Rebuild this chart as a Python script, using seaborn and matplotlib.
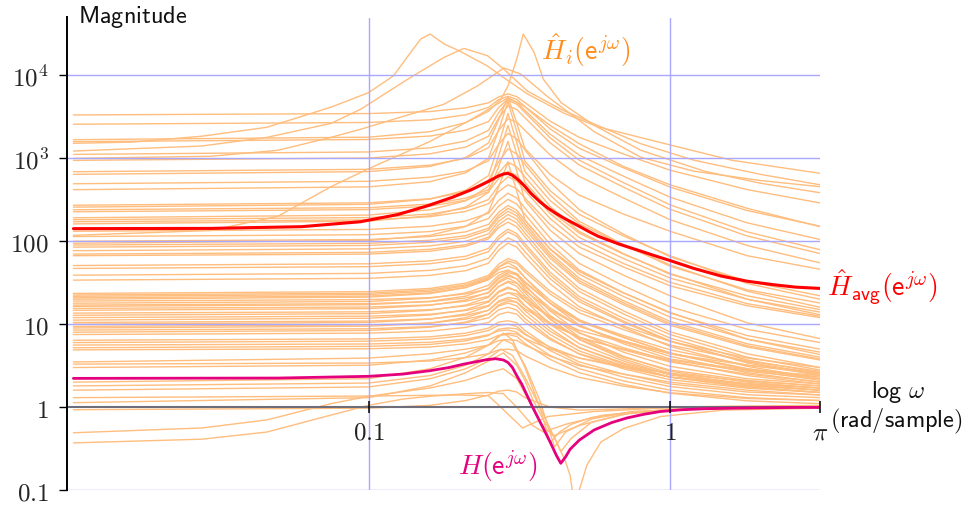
import numpy as np
import pandas as pd
import matplotlib
matplotlib.use("Agg")
import matplotlib.pyplot as plt
from matplotlib.ticker import NullLocator
import seaborn as sns

# ---------------------------------------------------------------
# Frequency grid (rad/sample) shared by most of the estimates
# ---------------------------------------------------------------
OMEGA = [0.0105, 0.1, 0.16, 0.21, 0.25, 0.27, 0.29, 0.31, 0.33, 0.4, 0.5, 0.7, 1.0, 1.8, 3.1416]

# Estimated responses |H_i| with large low-frequency gain (values on OMEGA)
UPPER_ESTIMATES = [
    [3340, 3470, 3670, 4070, 4680, 5500, 6000, 5550, 4710, 2810, 1790, 1130, 720, 420, 290],
    [2580, 2710, 2920, 3350, 4130, 5100, 5600, 5150, 4200, 2270, 1320, 770, 450, 235, 152],
    [1590, 1690, 1860, 2190, 2780, 4100, 5200, 4750, 3800, 1960, 1090, 610, 340, 167, 105],
    [1117, 1195, 1340, 1620, 2180, 3550, 5000, 4500, 3590, 1770, 950, 510, 275, 130, 79],
    [946, 1010, 1135, 1370, 1850, 3050, 4300, 3900, 3090, 1540, 830, 450, 243, 116, 71],
    [690, 738, 828, 1000, 1345, 2170, 3000, 2750, 2180, 1100, 605, 333, 182, 89, 55],
    [641, 692, 800, 1026, 1540, 2910, 5500, 2680, 1310, 640, 360, 213, 132, 67, 46],
    [494, 529, 593, 701, 939, 1480, 2000, 1720, 1270, 517, 240, 122, 65, 33, 22],
    [419, 453, 524, 670, 1006, 2200, 4800, 2110, 927, 407, 211, 116, 67, 31, 20],
    [272, 291, 326, 394, 544, 910, 1300, 1130, 847, 360, 174, 91, 50, 26, 18],
    [258, 279, 323, 413, 619, 1470, 3500, 1560, 695, 310, 162, 90, 52, 25, 16],
    [240, 254, 281, 331, 420, 665, 900, 790, 597, 264, 131, 71, 40, 22, 15],
    [227, 241, 266, 313, 397, 570, 700, 620, 473, 216, 111, 62, 36, 20, 14],
    [192, 207, 240, 307, 461, 1070, 2500, 1140, 516, 234, 125, 70, 41, 20, 13],
    [182, 193, 213, 251, 319, 472, 600, 533, 407, 188, 97, 54, 32, 17.7, 12.5],
    [172, 181, 198, 229, 284, 398, 480, 431, 332, 159, 85, 49, 29, 16.7, 12],
    [162, 175, 203, 259, 389, 790, 1600, 704, 310, 136, 71, 39, 22, 10.4, 6.7],
    [132, 139, 152, 176, 218, 311, 380, 333, 251, 109, 54, 29, 16.2, 8.7, 6],
    [114, 120, 131, 152, 188, 265, 320, 281, 211, 92, 45, 24, 13.6, 7.3, 5],
    [100, 105, 114, 130, 160, 224, 270, 237, 179, 80, 40, 21.6, 12.2, 6.6, 4.6],
    [94.6, 102, 118, 151, 227, 452, 900, 404, 181, 81, 43, 23.8, 13.9, 6.6, 4.3],
    [90, 94.5, 103, 117, 144, 205, 250, 219, 165, 72, 35.8, 19.2, 10.8, 5.8, 4],
    [85, 89, 97, 110, 136, 191, 230, 203, 153, 67, 33.4, 18.1, 10.2, 5.5, 3.8],
    [77, 81, 88, 100, 123, 174, 210, 185, 140, 62.5, 31.5, 17.2, 9.7, 5.3, 3.7],
    [70, 73.5, 80, 91, 112, 158, 190, 167, 126, 55, 27, 14.5, 8.1, 4.4, 3.0],
    [67, 70, 76, 87, 107, 146, 170, 150, 113, 49.5, 24.7, 13.3, 7.5, 4.0, 2.8],
    [51, 53.5, 58, 66, 82, 116, 140, 124, 94, 42.4, 21.5, 11.8, 6.8, 3.7, 2.6],
    [47, 49.4, 53.6, 61, 75, 107, 130, 115, 87, 39, 19.9, 10.9, 6.3, 3.4, 2.4],
    [39, 41, 44.6, 50.7, 62.4, 89, 110, 98, 75, 35.3, 18.6, 10.5, 6.2, 3.5, 2.5],
    [34, 35.7, 38.8, 44.2, 54.4, 78, 95, 85, 65, 30.7, 16.2, 9.2, 5.4, 3.1, 2.2],
]

# Estimates in the 10-25 band (values on OMEGA)
MID_ESTIMATES = [
    [23.5, 24.7, 27, 31.3, 38.8, 53, 62, 57, 45.7, 25, 14.9, 9.5, 6.2, 3.9, 3.0],
    [22.5, 23.6, 25.9, 29.9, 37.1, 49, 55, 48, 36.6, 17.8, 9.8, 5.8, 3.8, 2.8, 2.4],
    [21.7, 22.8, 25, 28.9, 35.8, 45.7, 50, 46, 36.4, 19.3, 11.3, 7.0, 4.5, 2.8, 2.1],
    [20.8, 21.8, 23.9, 27.7, 34.3, 42, 45, 39.5, 29.8, 14.4, 7.9, 4.6, 3.1, 2.2, 1.9],
    [20, 21.2, 23.4, 27.6, 35, 48.6, 58, 53.8, 42.7, 23.1, 13.7, 8.6, 5.6, 3.6, 2.7],
    [19, 19.8, 20.9, 23.2, 26.6, 35.2, 40, 35.2, 26.5, 12.8, 7.0, 4.1, 2.7, 2.0, 1.7],
    [17.9, 18.8, 20.6, 23.8, 29.5, 38.9, 44, 40.9, 32.6, 17.9, 10.8, 6.9, 4.5, 2.9, 2.2],
    [17, 17.7, 18.7, 20.7, 23.8, 31.6, 36, 31.7, 24, 11.7, 6.5, 3.8, 2.55, 1.87, 1.6],
    [16.4, 17.2, 18.9, 21.8, 27.1, 36.4, 42, 39.3, 31.6, 18, 11.1, 7.3, 4.9, 3.2, 2.5],
    [15.5, 16.1, 17.1, 18.9, 21.7, 28.5, 32, 28.6, 22, 11.4, 6.6, 4.0, 2.8, 2.1, 1.8],
    [14.7, 15.4, 16.9, 19.6, 24.3, 32.8, 38, 35.4, 28.3, 15.7, 9.5, 6.1, 4.1, 2.6, 2.0],
    [13.6, 14.1, 15, 16.6, 19, 24.9, 28, 25.1, 19.3, 10, 5.8, 3.6, 2.45, 1.85, 1.6],
    [12.8, 13.4, 14.7, 17, 21.1, 28.5, 33, 31.2, 25.3, 14.9, 9.4, 6.3, 4.4, 2.9, 2.3],
    [12, 12.5, 13.2, 14.6, 16.8, 21.7, 24, 21.6, 16.7, 8.9, 5.2, 3.3, 2.3, 1.73, 1.5],
    [11.2, 11.8, 12.9, 14.9, 18.5, 24.1, 27, 25.5, 20.7, 12.2, 7.8, 5.2, 3.6, 2.4, 1.9],
    [10.5, 10.9, 11.6, 12.8, 14.7, 18.5, 20, 18.4, 14.5, 8.2, 5.2, 3.4, 2.46, 1.92, 1.7],
    [10, 10.5, 11.5, 13.3, 16.5, 21.5, 24, 23.2, 19.2, 12.3, 8.4, 6.1, 4.4, 3.2, 2.6],
    [9.4, 9.8, 10.3, 11.5, 13.2, 16.6, 18, 16.6, 13.1, 7.5, 4.75, 3.15, 2.3, 1.8, 1.6],
    [9, 9.45, 10.3, 12, 14.8, 19, 21, 20.2, 16.6, 10.4, 6.95, 4.9, 3.5, 2.5, 2.0],
    [8.5, 8.8, 9.35, 10.4, 11.9, 14.9, 16, 14.8, 11.7, 6.8, 4.35, 2.9, 2.14, 1.69, 1.5],
    [8, 8.4, 9.2, 10.6, 13.2, 17.1, 19, 18.4, 15.3, 10, 6.9, 5.0, 3.7, 2.7, 2.2],
    [7.5, 7.8, 8.25, 9.15, 10.5, 13.1, 14, 13.2, 10.6, 6.5, 4.4, 3.1, 2.3, 1.9, 1.7],
]

# Estimates with small gain (values on OMEGA)
LOW_ESTIMATES = [
    [6.4, 6.65, 7.04, 7.8, 8.96, 10.6, 11, 10.4, 8.4, 5.2, 3.5, 2.5, 1.9, 1.52, 1.4],
    [6.0, 6.24, 6.6, 7.3, 8.4, 9.7, 10, 9.4, 7.7, 4.8, 3.26, 2.3, 1.77, 1.41, 1.3],
    [5.6, 5.77, 6.05, 6.6, 7.45, 8.3, 8.5, 8.0, 6.6, 4.2, 2.9, 2.07, 1.6, 1.3, 1.2],
    [5.2, 5.4, 5.7, 6.3, 7.3, 8.7, 9, 8.8, 7.5, 5.3, 3.9, 3.0, 2.3, 1.76, 1.5],
    [4.9, 5.05, 5.3, 5.8, 6.5, 7.35, 7.5, 7.1, 5.85, 3.76, 2.6, 1.88, 1.47, 1.19, 1.1],
    [3.5, 3.9, 4.4, 5.0, 5.6, 6.35, 6.5, 6.35, 5.6, 4.1, 3.16, 2.5, 2.0, 1.6, 1.4],
    [3.3, 3.4, 3.6, 3.95, 4.4, 4.9, 5.0, 4.8, 4.15, 3.0, 2.28, 1.79, 1.49, 1.27, 1.2],
    [3.0, 3.2, 3.7, 4.5, 5.6, 7.2, 7.8, 7.6, 6.7, 5.0, 3.9, 3.1, 2.56, 2.05, 1.8],
    [0.93, 0.97, 1.05, 1.2, 1.4, 1.56, 1.6, 1.52, 1.3, 1.0, 0.92, 0.95, 1.0, 1.03, 1.05],
]

# Estimates sampled on their own frequencies (strong resonances)
PEAK_A_W = [0.0105, 0.0165, 0.028, 0.046, 0.075, 0.1, 0.121, 0.138, 0.149, 0.16,
            0.178, 0.2, 0.248, 0.281, 0.336, 0.445, 0.577, 0.93, 1.6, 3.1416]
PEAK_A_MAG = [1520, 1570, 1850, 2370, 4140, 6200, 9900, 19000, 27500, 31600,
              24000, 19800, 13000, 9400, 6000, 3500, 2400, 1550, 950, 660]

PEAK_B_W = [0.0105, 0.028, 0.046, 0.075, 0.094, 0.138, 0.178, 0.207, 0.248,
            0.281, 0.336, 0.435, 0.56, 0.8, 1.2, 2.0, 3.1416]
PEAK_B_MAG = [1225, 1410, 1790, 2640, 3900, 9500, 16500, 21200, 17300,
              11900, 6500, 3900, 2600, 1500, 950, 640, 480]

PEAK_C_W = [0.0105, 0.1, 0.16, 0.21, 0.25, 0.275, 0.29, 0.31, 0.326, 0.354,
            0.38, 0.435, 0.56, 0.8, 1.3, 2.0, 3.1416]
PEAK_C_MAG = [1680, 1800, 2100, 2700, 3700, 5180, 7500, 15700, 31600, 19000,
              9000, 4700, 2500, 1250, 700, 500, 385]

PEAK_D_W = [0.0105, 0.03, 0.05, 0.075, 0.094, 0.121, 0.178, 0.23, 0.281, 0.32,
            0.39, 0.56, 0.8, 1.2, 2.0, 3.1416]
PEAK_D_MAG = [1000, 1060, 1250, 1790, 2240, 2960, 4500, 7500, 12300, 10400,
              5660, 2100, 1030, 700, 540, 455]

PEAK_E_W = [0.0105, 0.03, 0.05, 0.075, 0.1, 0.16, 0.21, 0.25, 0.29, 0.33,
            0.4, 0.5, 0.7, 1.0, 1.8, 3.1416]
PEAK_E_MAG = [118, 135, 200, 455, 750, 1600, 2700, 3900, 5400, 4200,
              2500, 1500, 800, 480, 250, 150]

# Estimates that place a zero near the true one
DIP_A_W = [0.0105, 0.1, 0.2, 0.25, 0.28, 0.324, 0.394, 0.56, 0.93, 1.5, 3.1416]
DIP_A_MAG = [1.3, 1.36, 1.4, 1.37, 0.93, 0.56, 0.77, 0.885, 0.97, 0.99, 1.0]

DIP_B_W = [0.0105, 0.1, 0.16, 0.21, 0.25, 0.28, 0.3, 0.33, 0.37, 0.4, 0.43,
           0.47, 0.55, 0.75, 1.2, 3.1416]
DIP_B_MAG = [2.0, 2.2, 2.9, 4.0, 5.6, 7.8, 6.5, 3.0, 1.0, 0.37, 0.5,
             0.62, 0.75, 0.88, 0.96, 1.0]

DIP_C_W = [0.0105, 0.1, 0.16, 0.21, 0.25, 0.28, 0.3, 0.33, 0.37, 0.414,
           0.45, 0.55, 0.75, 1.2, 3.1416]
DIP_C_MAG = [1.8, 1.95, 2.4, 3.2, 4.4, 6.5, 5.8, 3.2, 1.2, 0.33,
             0.5, 0.72, 0.88, 0.96, 1.0]

DIP_D_W = [0.0105, 0.1, 0.16, 0.21, 0.25, 0.275, 0.3, 0.33, 0.37, 0.405,
           0.434, 0.47, 0.55, 0.75, 1.2, 3.1416]
DIP_D_MAG = [1.6, 1.75, 2.2, 2.9, 3.9, 5.0, 4.2, 2.3, 1.0, 0.5,
             0.29, 0.42, 0.66, 0.86, 0.95, 1.0]

NOTCH_W = [0.0105, 0.1, 0.16, 0.21, 0.25, 0.28, 0.31, 0.33, 0.35, 0.38, 0.414,
           0.45, 0.466, 0.478, 0.488, 0.5, 0.53, 0.59, 0.7, 0.93, 1.5, 3.1416]
NOTCH_MAG = [1.13, 1.3, 1.8, 2.6, 3.6, 4.5, 3.2, 2.1, 1.25, 0.7, 0.43,
             0.22, 0.15, 0.08, 0.03, 0.1, 0.2, 0.38, 0.55, 0.77, 0.92, 0.97]

RISE_A_W = [0.0105, 0.028, 0.046, 0.075, 0.1, 0.16, 0.21, 0.25, 0.28, 0.31,
            0.34, 0.37, 0.41, 0.5, 0.7, 1.0, 1.8, 3.1416]
RISE_A_MAG = [0.49, 0.56, 0.7, 1.1, 1.35, 1.7, 2.1, 2.6, 2.9, 2.2,
              1.2, 0.65, 0.45, 0.6, 0.82, 0.92, 0.98, 1.0]

RISE_B_W = [0.0105, 0.028, 0.046, 0.075, 0.1, 0.13, 0.16, 0.21, 0.25, 0.28,
            0.31, 0.35, 0.38, 0.45, 0.6, 1.0, 1.8, 3.1416]
RISE_B_MAG = [0.37, 0.41, 0.5, 0.8, 1.05, 1.25, 1.35, 1.45, 1.5, 1.45,
              1.0, 0.6, 0.5, 0.62, 0.8, 0.93, 0.98, 1.0]

# Average of the estimates
AVG_W = [0.0105, 0.03, 0.06, 0.094, 0.125, 0.157, 0.19, 0.218, 0.24, 0.254,
         0.27, 0.281, 0.29, 0.3, 0.312, 0.33, 0.345, 0.37, 0.394, 0.42,
         0.445, 0.494, 0.54, 0.577, 0.68, 0.8, 0.9, 1.0, 1.2, 1.48,
         1.8, 2.19, 2.6, 3.1416]
AVG_MAG = [142, 143, 150, 172, 210, 268, 340, 415, 490, 545,
           615, 650, 658, 625, 560, 460, 380, 300, 250, 215,
           190, 155, 130, 115, 92, 76, 66, 58.5, 47, 38,
           33, 30, 28, 27]

# True system response
TRUE_W = [0.0105, 0.05, 0.1, 0.13, 0.16, 0.185, 0.207, 0.225, 0.245, 0.264,
          0.28, 0.29, 0.3, 0.312, 0.322, 0.335, 0.35, 0.374, 0.4, 0.42,
          0.434, 0.45, 0.466, 0.5, 0.56, 0.64, 0.72, 0.82, 0.93, 1.1,
          1.3, 1.6, 2.0, 2.6, 3.1416]
TRUE_MAG = [2.22, 2.24, 2.35, 2.5, 2.75, 3.0, 3.3, 3.5, 3.72, 3.83,
            3.7, 3.45, 3.0, 2.3, 1.9, 1.4, 1.0, 0.62, 0.38, 0.26,
            0.21, 0.25, 0.31, 0.4, 0.53, 0.65, 0.74, 0.82, 0.885, 0.93,
            0.955, 0.97, 0.98, 0.99, 0.99]

Y_TICKS = [0.1, 1, 10, 100, 1e3, 1e4]
Y_TICK_LABELS = [r"$0.1$", r"$1$", r"$10$", r"$100$", r"$10^3$", r"$10^4$"]
X_TICKS = [0.1, 1.0, np.pi]
X_TICK_LABELS = [r"$0.1$", r"$1$", r"$\pi$"]

ORANGE = "#FFBD7E"
ORANGE_TEXT = "#FF8C1A"
RED = "#FF0000"
MAGENTA = "#E5007D"
GRID = "#A8A8FF"
AXIS_GRAY = "#6E6E7A"

# ---------------------------------------------------------------
# Long-form table of all the estimates
# ---------------------------------------------------------------
rows = []
for group_name, group in (("up", UPPER_ESTIMATES), ("mid", MID_ESTIMATES), ("low", LOW_ESTIMATES)):
    for k, mags in enumerate(group):
        for w, m in zip(OMEGA, mags):
            rows.append((f"{group_name}{k}", w, m))

own_grid = {
    "A": (PEAK_A_W, PEAK_A_MAG), "B": (PEAK_B_W, PEAK_B_MAG),
    "C": (PEAK_C_W, PEAK_C_MAG), "D": (PEAK_D_W, PEAK_D_MAG),
    "E": (PEAK_E_W, PEAK_E_MAG), "dipA": (DIP_A_W, DIP_A_MAG),
    "dipB": (DIP_B_W, DIP_B_MAG), "dipC": (DIP_C_W, DIP_C_MAG),
    "dipD": (DIP_D_W, DIP_D_MAG), "notch": (NOTCH_W, NOTCH_MAG),
    "riseA": (RISE_A_W, RISE_A_MAG), "riseB": (RISE_B_W, RISE_B_MAG),
}
for name, (ws, ms) in own_grid.items():
    for w, m in zip(ws, ms):
        rows.append((name, w, m))

estimates = pd.DataFrame(rows, columns=["curve", "omega", "mag"])
avg_df = pd.DataFrame({"omega": AVG_W, "mag": AVG_MAG})
true_df = pd.DataFrame({"omega": TRUE_W, "mag": TRUE_MAG})

# ---------------------------------------------------------------
# Figure
# ---------------------------------------------------------------
sns.set_theme(style="white")
plt.rcParams["mathtext.fontset"] = "cm"
plt.rcParams["font.family"] = ["DejaVu Sans"]

fig = plt.figure(figsize=(9.65, 5.06), dpi=100)
ax = fig.add_axes([67 / 965, 15 / 506, 753 / 965, 472.5 / 506])
ax.set_xscale("log")
ax.set_yscale("log")

sns.lineplot(data=estimates, x="omega", y="mag", units="curve", estimator=None,
             color=ORANGE, lw=1.0, ax=ax, legend=False, zorder=2)

# grid
for yv in [0.1, 10, 100, 1e3, 1e4]:
    ax.axhline(yv, color=GRID, lw=1.0, zorder=2.5)
for xv in [0.1, 1.0]:
    ax.axvline(xv, color=GRID, lw=1.0, zorder=2.5)
ax.axhline(1.0, color=AXIS_GRAY, lw=1.5, zorder=2.6)

sns.lineplot(data=avg_df, x="omega", y="mag", color=RED, lw=2.2, ax=ax,
             estimator=None, zorder=3)
sns.lineplot(data=true_df, x="omega", y="mag", color=MAGENTA, lw=2.0, ax=ax,
             estimator=None, zorder=3.1)

ax.set_xlim(0.01, np.pi)
ax.set_ylim(0.1, 5e4)

# axes decoration
for side in ("top", "right", "bottom"):
    ax.spines[side].set_visible(False)
ax.spines["left"].set_color("black")
ax.spines["left"].set_linewidth(1.4)
ax.spines["left"].set_zorder(4)

ax.set_xticks([])
ax.xaxis.set_minor_locator(NullLocator())
ax.set_yticks(Y_TICKS)
ax.set_yticklabels(Y_TICK_LABELS)
ax.yaxis.set_minor_locator(NullLocator())
ax.tick_params(axis="y", direction="out", length=6, width=1.0, color="black",
               pad=7, labelsize=18, left=True)
ax.set_xlabel("")
ax.set_ylabel("")

# ticks on the frequency axis (drawn on the unit-gain line)
ax.vlines(X_TICKS, 10 ** -0.075, 10 ** 0.075, color="black", lw=1.1,
          zorder=5, clip_on=False)
for xv, lab in zip(X_TICKS, X_TICK_LABELS):
    ax.text(xv, 10 ** -0.3, lab, ha="center", va="center", fontsize=18,
            color="#222222", clip_on=False)

# labels
fig.text(78 / 965, 1 - 17 / 506, r"$\mathsf{Magnitude}$", ha="left",
         va="center", fontsize=17.5, color="#111111")
fig.text(898 / 965, 1 - 392 / 506, r"$\mathsf{log}\ \omega$", ha="center",
         va="center", fontsize=17.5, color="#111111")
fig.text(896 / 965, 1 - 421 / 506, r"$\mathsf{(rad/sample)}$", ha="center",
         va="center", fontsize=17.5, color="#111111")

ax.text(0.525, 2.08e4, r"$\hat{H}_i(\mathsf{e}^{j\omega})$", ha="center",
        va="center", fontsize=20, color=ORANGE_TEXT, clip_on=False)
ax.text(5.05, 28.3, r"$\hat{H}_{\mathsf{avg}}(\mathsf{e}^{j\omega})$",
        ha="center", va="center", fontsize=20, color=RED, clip_on=False)
ax.text(0.268, 0.196, r"$H(\mathsf{e}^{j\omega})$", ha="center", va="center",
        fontsize=20, color=MAGENTA, clip_on=False)

fig.savefig("out.png", dpi=100, facecolor="white")
